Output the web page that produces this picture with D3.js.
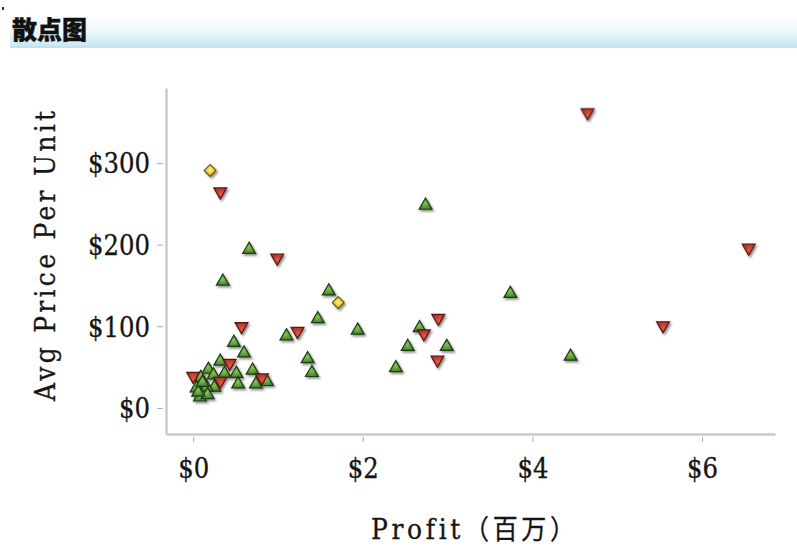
<!DOCTYPE html>
<html><head><meta charset="utf-8">
<script src="https://cdn.jsdelivr.net/npm/d3@7"></script>
<style>html,body{margin:0;padding:0;background:#fff;}svg{display:block;}text{font-variant-ligatures:none;}</style>
</head><body>
<script>
// ---- data ----
const title = "散点图";
const xLabel = "Profit（百万）";
const yLabel = "Avg Price Per Unit";
const xTicks = [0, 2, 4, 6];
const yTicks = [0, 100, 200, 300];
const xTickLabels = ["$0", "$2", "$4", "$6"];
const yTickLabels = ["$0", "$100", "$200", "$300"];
// green up-triangles: [profit (millions), avg price]
const upProfit = [2.74,3.74,4.45,0.66,0.35,1.60,1.47,1.10,1.94,1.35,1.40,2.67,2.53,2.99,2.39,0.48,0.60,0.32,0.18,0.09,0.24,0.37,0.51,0.70,0.87,0.74,0.53,0.25,0.16,0.04,0.08,0.17,0.06,0.11];
const upPrice  = [248,140,63,194,155,143,109,88,95,60,43,98,75,75,49,80,67,57,47,37,40,42,42,46,32,29,29,25,25,24,13,16,19,31];
// red down-triangles
const downProfit = [4.65,6.55,5.54,0.32,0.99,1.23,0.57,2.72,2.89,2.88,0.43,0.00,0.81,0.32];
const downPrice  = [362,196,101,265,184,94,100,91,110,59,55,39,37,33];
// yellow diamonds
const flatProfit = [0.20,1.71];
const flatPrice  = [291,129];

const W = 797, H = 550;
const svg = d3.select("body").append("svg").attr("width", W).attr("height", H);
const defs = svg.append("defs");

// header band gradient
const hg = defs.append("linearGradient").attr("id","hdr").attr("x1",0).attr("y1",0).attr("x2",0).attr("y2",1);
hg.append("stop").attr("offset","0%").attr("stop-color","#ffffff");
hg.append("stop").attr("offset","50%").attr("stop-color","#eef8fb");
hg.append("stop").attr("offset","100%").attr("stop-color","#c8e7f0");

function radial(id, c1, c2){
  const g = defs.append("radialGradient").attr("id",id).attr("cx","45%").attr("cy","45%").attr("r","65%");
  g.append("stop").attr("offset","0%").attr("stop-color",c1);
  g.append("stop").attr("offset","100%").attr("stop-color",c2);
}
radial("gGreen","#86c456","#3a7a20");
radial("gRed","#dc5a46","#a82c24");
radial("gYellow","#fff27a","#dcbc1c");

const f = defs.append("filter").attr("id","shadow").attr("x","-50%").attr("y","-50%").attr("width","200%").attr("height","200%");
f.append("feDropShadow").attr("dx",1.5).attr("dy",1.8).attr("stdDeviation",1.2).attr("flood-color","#000").attr("flood-opacity",0.45);

// header
svg.append("rect").attr("x",2).attr("y",7).attr("width",2).attr("height",3).attr("fill","#333");
svg.append("rect").attr("x",10).attr("y",14).attr("width",W-10).attr("height",33).attr("fill","url(#hdr)");
svg.append("rect").attr("x",10).attr("y",46).attr("width",W-10).attr("height",2).attr("fill","#c2e2ec");
svg.append("text").attr("x",12).attr("y",39).attr("font-family","'Noto Sans CJK SC'").attr("font-weight","900")
  .attr("font-size",25).attr("fill","#111").attr("stroke","#111").attr("stroke-width",0.4).text(title);

// scales
const x = d3.scaleLinear().domain([-0.32, 6.86]).range([166, 775]);
const y = d3.scaleLinear().domain([-32, 392]).range([434, 88]);

const axisColor = "#cacaca";
const serifFont = "'DejaVu Serif', 'Liberation Serif', serif";
const sy = 1.08;
const cell = 15.5; // monospace-like cell width
const txt = "#151515";

// y axis
const gy = svg.append("g").attr("transform", `translate(${x.range()[0]},0)`)
  .call(d3.axisLeft(y).tickValues(yTicks).tickSize(0).tickSizeOuter(0).tickFormat((d,i)=>yTickLabels[i]));
gy.select(".domain").attr("stroke",axisColor).attr("stroke-width",2.5);
gy.selectAll(".tick line").attr("x1",-3).attr("x2",-9).attr("stroke","#aaa").attr("stroke-width",1);
gy.selectAll(".tick text").attr("x",-16).attr("dy","0.36em").attr("font-family",serifFont).attr("font-size",25)
  .attr("textLength",(d,i)=>yTickLabels[i].length*cell).attr("lengthAdjust","spacingAndGlyphs")
  .attr("fill",txt).attr("stroke",txt).attr("stroke-width",0.3).attr("transform",`scale(1,${sy})`);

// x axis
const gx = svg.append("g").attr("transform", `translate(0,${y.range()[0]})`)
  .call(d3.axisBottom(x).tickValues(xTicks).tickSize(0).tickSizeOuter(0).tickFormat((d,i)=>xTickLabels[i]));
gx.select(".domain").attr("stroke",axisColor).attr("stroke-width",2.5);
gx.selectAll(".tick line").attr("y1",3).attr("y2",8).attr("stroke","#aaa").attr("stroke-width",1);
gx.selectAll(".tick text").attr("y",34/sy).attr("dy","0.36em").attr("font-family",serifFont).attr("font-size",25)
  .attr("textLength",(d,i)=>xTickLabels[i].length*cell).attr("lengthAdjust","spacingAndGlyphs")
  .attr("fill",txt).attr("stroke",txt).attr("stroke-width",0.3).attr("transform",`scale(1,${sy})`);

// axis titles
svg.append("text").attr("transform","translate(55,256) rotate(-90) scale(1,1.08)").attr("text-anchor","middle")
  .attr("font-family",serifFont).attr("font-size",25).attr("textLength",290).attr("lengthAdjust","spacing")
  .attr("fill",txt).attr("stroke",txt).attr("stroke-width",0.3).text(yLabel);
svg.append("text").attr("transform","translate(473,539) scale(1,1.08)").attr("text-anchor","middle")
  .attr("font-family","'DejaVu Serif', 'Noto Sans CJK SC', serif").attr("font-size",25)
  .attr("textLength",204).attr("lengthAdjust","spacing")
  .attr("fill",txt).attr("stroke",txt).attr("stroke-width",0.3).text(xLabel);

// markers
const marks = svg.append("g").attr("filter","url(#shadow)");
const tri = d3.symbol().type(d3.symbolTriangle).size(72)();
const sq = d3.symbol().type(d3.symbolSquare).size(70)();

marks.selectAll(".up").data(d3.range(upProfit.length)).join("path")
  .attr("d", tri).attr("transform", i => `translate(${x(upProfit[i])},${y(upPrice[i])})`)
  .attr("fill","url(#gGreen)").attr("stroke","#1f3a14").attr("stroke-width",1.2);
marks.selectAll(".down").data(d3.range(downProfit.length)).join("path")
  .attr("d", tri).attr("transform", i => `translate(${x(downProfit[i])},${y(downPrice[i])}) rotate(180)`)
  .attr("fill","url(#gRed)").attr("stroke","#561812").attr("stroke-width",1.2);
marks.selectAll(".flat").data(d3.range(flatProfit.length)).join("path")
  .attr("d", sq).attr("transform", i => `translate(${x(flatProfit[i])},${y(flatPrice[i])}) rotate(45)`)
  .attr("fill","url(#gYellow)").attr("stroke","#6b5a18").attr("stroke-width",1.2);
</script>
</body></html>
